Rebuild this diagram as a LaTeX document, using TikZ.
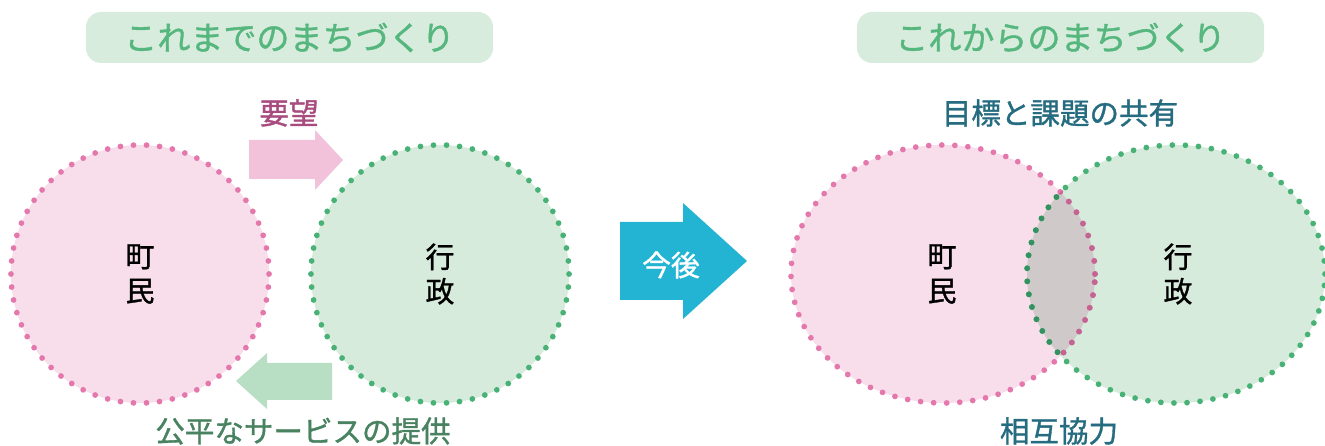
\documentclass[tikz,border=0pt]{standalone}
\usepackage{fontspec}
\setmainfont{Noto Sans CJK JP}
\newfontfamily\medfont[FakeBold=1.2]{Noto Sans CJK JP}
\usepackage{xcolor}
\usetikzlibrary{positioning}
\definecolor{pinkfill}{RGB}{247,222,234}
\definecolor{pinkdot}{RGB}{228,120,172}
\definecolor{pinkdark}{RGB}{196,100,146}
\definecolor{greenfill}{RGB}{214,235,220}
\definecolor{greendot}{RGB}{72,178,118}
\definecolor{greendark}{RGB}{52,146,96}
\definecolor{pinkarrow}{RGB}{242,193,218}
\definecolor{greenarrow}{RGB}{184,222,196}
\definecolor{cyanarrow}{RGB}{35,180,212}
\definecolor{titlefill}{RGB}{216,236,222}
\definecolor{titletext}{RGB}{86,183,126}
\definecolor{wishtext}{RGB}{168,76,128}
\definecolor{servicetext}{RGB}{72,130,96}
\definecolor{tealtext}{RGB}{38,108,128}
\definecolor{lensfill}{RGB}{207,201,201}

\begin{document}
\begin{tikzpicture}[x=0.025cm, y=0.025cm,
    title/.style={rectangle, rounded corners=0.38cm, fill=titlefill, text=titletext, minimum width=10.175cm, minimum height=1.275cm, font=\medfont\fontsize{23.5}{26}\selectfont},
    dots/.style={line width=4.1pt, line cap=round, dash pattern=on 0pt off 9.3pt},
    circ/.style={circle, minimum size=6.45cm, align=center, dots, font=\medfont\fontsize{20.5}{24.5}\selectfont},
    mid/.style={align=center, font=\medfont\fontsize{20.5}{24.5}\selectfont},
    label/.style={font=\medfont\fontsize{21}{24}\selectfont}]
\useasboundingbox (0,0) rectangle (1325,446);

\node[title] (before) at (289.5,408.5) {これまでのまちづくり};
\node[title] (after) at (1060.5,408.5) {これからのまちづくり};

\node[circ, draw=pinkdot, fill=pinkfill] (town) at (140,172) {町\\民};
\node[circ, draw=greendot, fill=greenfill] (admin) at (440,172) {行\\政};

\fill[pinkarrow] (249,267) -- (315,267) -- (315,256) -- (343,286) -- (315,316) -- (315,306) -- (249,306) -- cycle;
\fill[greenarrow] (332,83) -- (267,83) -- (267,93) -- (236,65) -- (267,37) -- (267,46) -- (332,46) -- cycle;
\node[label, text=wishtext] (wish) at (289,333) {要望};
\node[label, text=servicetext] (service) at (303,15) {公平なサービスの提供};

\fill[cyanarrow] (620,224) -- (683,224) -- (683,243) -- (747,185) -- (683,127) -- (683,146) -- (620,146) -- cycle;
\node[mid, text=white] (future) at (671,181) {今後};

\coordinate (pc) at (943,172);
\coordinate (gc) at (1176,172);
\fill[pinkfill] (pc) ellipse [x radius=152, y radius=129];
\fill[greenfill] (gc) ellipse [x radius=149, y radius=129];
\begin{scope}
  \clip (pc) ellipse [x radius=152, y radius=129];
  \fill[lensfill] (gc) ellipse [x radius=149, y radius=129];
\end{scope}
\draw[dots, pinkdot] (pc) ellipse [x radius=152, y radius=129];
\draw[dots, greendot] (gc) ellipse [x radius=149, y radius=129];
\begin{scope}
  \clip (gc) ellipse [x radius=149, y radius=129];
  \draw[dots, pinkdark] (pc) ellipse [x radius=152, y radius=129];
\end{scope}
\begin{scope}
  \clip (pc) ellipse [x radius=152, y radius=129];
  \draw[dots, greendark] (gc) ellipse [x radius=149, y radius=129];
\end{scope}
\node[mid] (town2) at (942,172) {町\\民};
\node[mid] (admin2) at (1178,172) {行\\政};

\node[label, text=tealtext] (share) at (1060,333) {目標と課題の共有};
\node[label, text=tealtext] (coop) at (1059,15) {相互協力};
\end{tikzpicture}
\end{document}
